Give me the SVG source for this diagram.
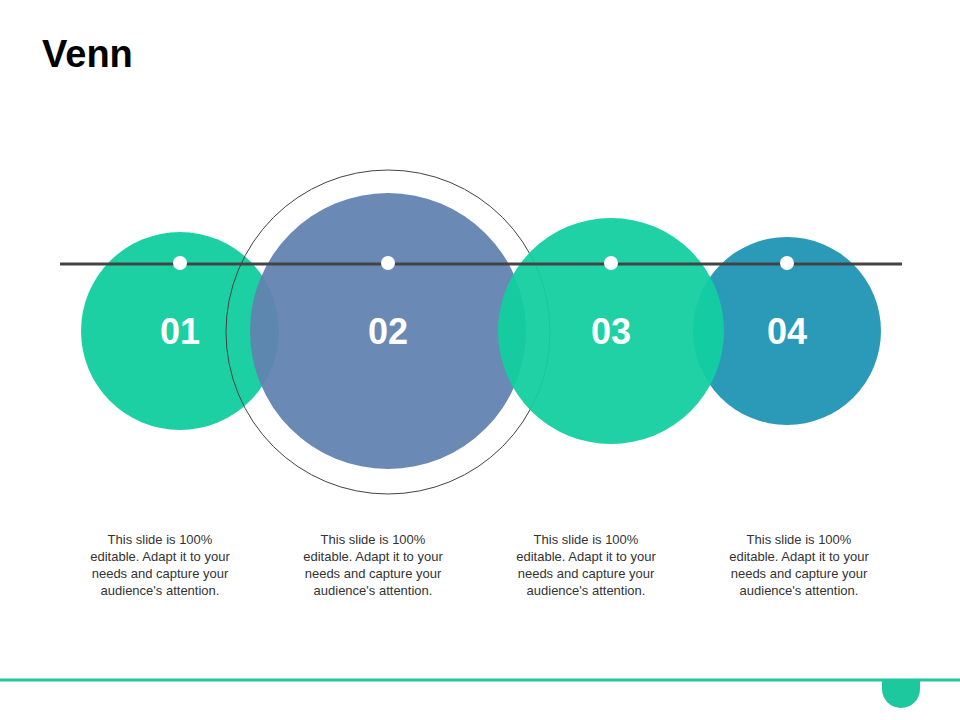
<svg xmlns="http://www.w3.org/2000/svg" width="960" height="720" viewBox="0 0 960 720">
<style>
.num{font-family:"Liberation Sans",Arial,sans-serif;font-weight:bold;font-size:36px;fill:#fff;text-anchor:middle}
.desc{font-family:"Liberation Sans",Arial,sans-serif;font-size:13px;fill:#333;text-anchor:middle}
.dot{fill:#fff}
</style>
<rect width="960" height="720" fill="#fff"/>
<text x="42" y="67" font-family="Liberation Sans,Arial,sans-serif" font-weight="bold" font-size="38" fill="#000">Venn</text>
<g id="node1"><circle cx="180" cy="331" r="99" fill="#1dd0a4"/></g>
<g id="node2"><circle cx="388" cy="331" r="138" fill="#6283b0" opacity="0.95"/><circle cx="388" cy="332" r="162" fill="none" stroke="#444" stroke-width="1"/></g>
<g id="node4"><circle cx="787" cy="331" r="94" fill="#2b9ab8"/></g>
<g id="node3"><circle cx="611" cy="331" r="113" fill="#13cfa0" opacity="0.95"/></g>
<g id="connectors"><line x1="60" y1="264" x2="902" y2="264" stroke="#444" stroke-width="3"/></g>
<g id="dots">
<circle class="dot" cx="180" cy="263" r="7"/><circle class="dot" cx="388" cy="263" r="7"/><circle class="dot" cx="611" cy="263" r="7"/><circle class="dot" cx="787" cy="263" r="7"/>
</g>
<g id="labels">
<text class="num" x="180" y="344">01</text><text class="num" x="388" y="344">02</text><text class="num" x="611" y="344">03</text><text class="num" x="787" y="344">04</text>
</g>
<g id="texts">
<text class="desc" x="160" y="544"><tspan x="160">This slide is 100%</tspan><tspan x="160" dy="17">editable. Adapt it to your</tspan><tspan x="160" dy="17">needs and capture your</tspan><tspan x="160" dy="17">audience's attention.</tspan></text>
<text class="desc" x="373" y="544"><tspan x="373">This slide is 100%</tspan><tspan x="373" dy="17">editable. Adapt it to your</tspan><tspan x="373" dy="17">needs and capture your</tspan><tspan x="373" dy="17">audience's attention.</tspan></text>
<text class="desc" x="586" y="544"><tspan x="586">This slide is 100%</tspan><tspan x="586" dy="17">editable. Adapt it to your</tspan><tspan x="586" dy="17">needs and capture your</tspan><tspan x="586" dy="17">audience's attention.</tspan></text>
<text class="desc" x="799" y="544"><tspan x="799">This slide is 100%</tspan><tspan x="799" dy="17">editable. Adapt it to your</tspan><tspan x="799" dy="17">needs and capture your</tspan><tspan x="799" dy="17">audience's attention.</tspan></text>
</g>
<line x1="0" y1="680" x2="960" y2="680" stroke="#1dc89e" stroke-width="3"/>
<path d="M882 680 H920 V689 A19 19 0 0 1 882 689 Z" fill="#1dc89e"/>
</svg>
